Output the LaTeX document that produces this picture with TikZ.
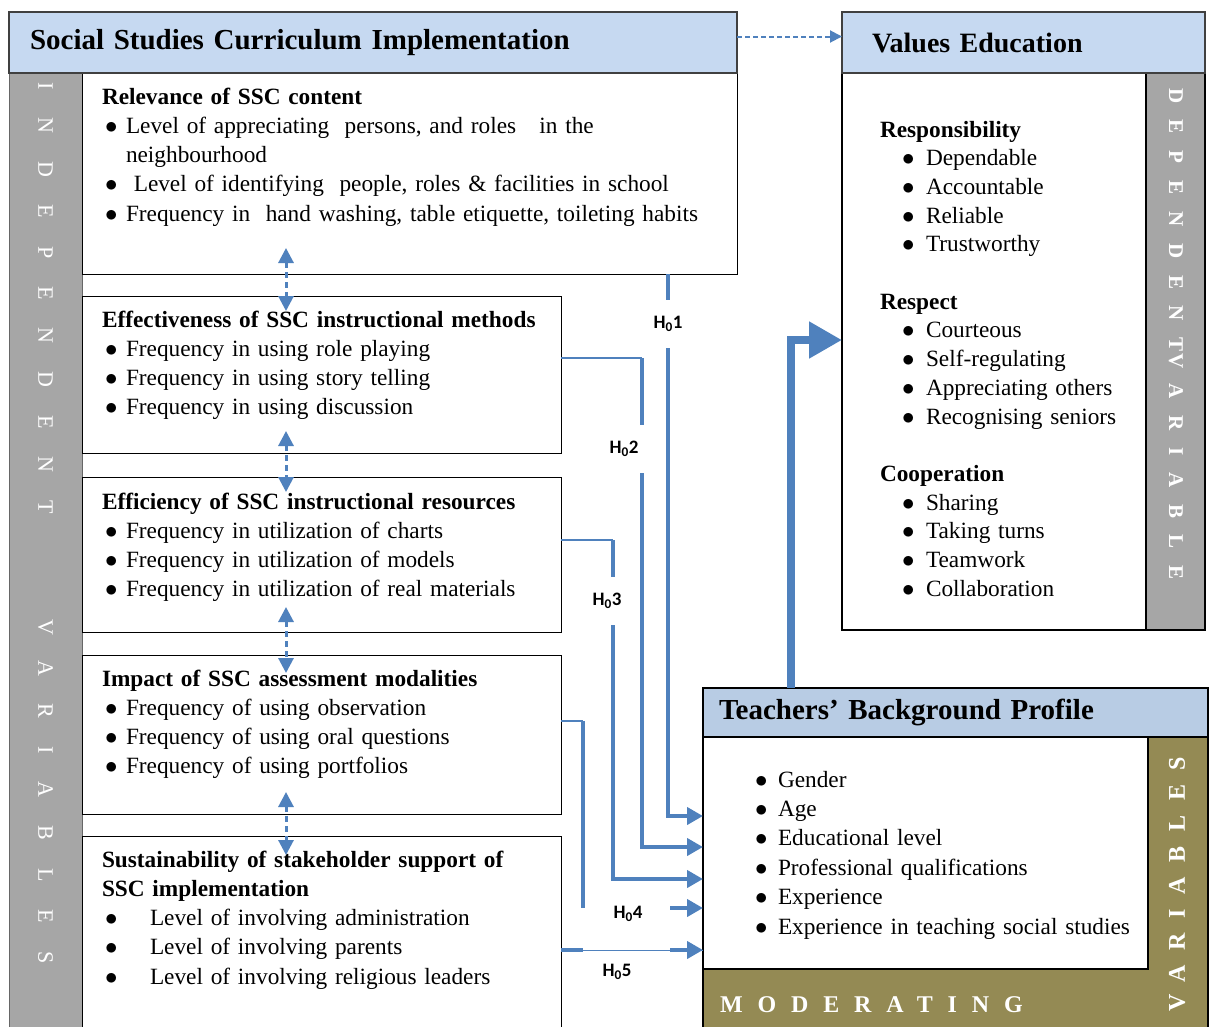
\documentclass[tikz,border=0pt]{standalone}
\usepackage{fontspec}
\setmainfont{Liberation Serif}
\newfontfamily\calibri{Carlito}
\usetikzlibrary{arrows.meta,positioning}

\definecolor{hdrblue}{HTML}{C6D9F1}
\definecolor{tbpblue}{HTML}{B8CCE4}
\definecolor{bandgray}{HTML}{A6A6A6}
\definecolor{olive}{HTML}{948A54}
\definecolor{linkblue}{HTML}{4F81BD}

% bullets with the indents of the reference
\newcommand\bigdot{$\bullet$}
\newcommand\bul{\hspace*{3pt}\makebox[21pt][l]{\bigdot}}
\newcommand\bulw{\hspace*{3pt}\makebox[45pt][l]{\bigdot}}
\newcommand\bulv{\hspace*{22pt}\makebox[24pt][l]{\bigdot}}
\newcommand\bult{\hspace*{-1pt}\makebox[23pt][l]{\bigdot}}

\begin{document}
\begin{tikzpicture}[x=1pt, y=-1pt,
    every node/.style={inner sep=0pt, outer sep=0pt},
    frame/.style={anchor=north west, draw=black, line width=1pt, fill=white},
    hdr/.style={anchor=north west, draw=black!75, line width=1.5pt, fill=hdrblue,
        align=left, font=\bfseries\fontsize{28}{32}\selectfont},
    band/.style={anchor=north west, draw=black!60, line width=1pt, fill=bandgray},
    body/.style={anchor=base west, align=left, text width=700pt,
        font=\fontsize{23.3}{29.25}\selectfont},
    vlet/.style={text=white, font=\fontsize{22}{22}\selectfont},
    hlabel/.style={fill=white, inner xsep=8pt, inner ysep=16pt,
        font=\calibri\bfseries\fontsize{19}{19}\selectfont},
    link/.style={draw=linkblue, line width=4pt, -{Triangle[length=16pt,width=17pt]}},
    thinlink/.style={draw=linkblue, line width=2pt},
    dashlink/.style={draw=linkblue, line width=2pt, dash pattern=on 5pt off 3pt,
        -{Triangle[length=12pt,width=12pt]}},
    twoway/.style={draw=linkblue, line width=3pt, dash pattern=on 6pt off 4pt,
        {Triangle[length=15pt,width=15pt]}-{Triangle[length=15pt,width=15pt]}},
    bigarrow/.style={draw=linkblue, line width=8pt, -{Triangle[length=33pt,width=35pt]}}
]
\useasboundingbox (0,0) rectangle (1213,1026);

% Independent variables band
\node[band, minimum width=73, minimum height=960] (ivband) at (9,73) {};
\node[vlet, rotate=-90, anchor=west] (ivtext) at (45.5,82)
    {\addfontfeatures{LetterSpace=127}INDEPENDENT\hspace{105pt}VARIABLES};

% Independent variable boxes
\node[frame, minimum width=655, minimum height=201] (relv) at (82,73) {};
\node[frame, minimum width=479, minimum height=157] (effe) at (82,296) {};
\node[frame, minimum width=479, minimum height=155] (effi) at (82,477) {};
\node[frame, minimum width=479, minimum height=159] (impa) at (82,655) {};
\node[frame, minimum width=479, minimum height=195] (sust) at (82,836) {};

% Main header
\node[hdr, font=\bfseries\fontsize{29}{32}\selectfont, minimum width=728, minimum height=61,
    inner xsep=21pt, text width=686pt]
    (ssc) at (9,12) {Social Studies Curriculum Implementation};

% Box texts
\node[body] (relvtxt) at (102,104) {\textbf{Relevance of SSC content}\\
    \bul Level of appreciating\ \ persons, and roles \ \ in the\\
    \hspace*{24pt}neighbourhood\\
    \bul\ Level of identifying\ \ people, roles \& facilities in school\\
    \bul Frequency in\ \ hand washing, table etiquette, toileting habits};
\node[body] (effetxt) at (102,327) {\textbf{Effectiveness of SSC instructional methods}\\
    \bul Frequency in using role playing\\
    \bul Frequency in using story telling\\
    \bul Frequency in using discussion};
\node[body] (effitxt) at (102,509) {\textbf{Efficiency of SSC instructional resources}\\
    \bul Frequency in utilization of charts\\
    \bul Frequency in utilization of models\\
    \bul Frequency in utilization of real materials};
\node[body] (impatxt) at (102,686) {\textbf{Impact of SSC assessment modalities}\\
    \bul Frequency of using observation\\
    \bul Frequency of using oral questions\\
    \bul Frequency of using portfolios};
\node[body] (susttxt) at (102,867) {\textbf{Sustainability of stakeholder support of}\\
    \textbf{SSC implementation}\\
    \bulw Level of involving administration\\
    \bulw Level of involving parents\\
    \bulw Level of involving religious leaders};

% Values Education (dependent)
\node[frame, line width=1.5pt, minimum width=363, minimum height=557] (valbody) at (842,73) {};
\node[band, draw=black, line width=1.5pt, minimum width=59, minimum height=557] (dvband) at (1146,73) {};
\node[hdr, minimum width=363, minimum height=61, inner xsep=30pt, text width=303pt]
    (valhdr) at (842,12) {Values Education};
\node[body, font=\fontsize{23.3}{28.7}\selectfont] (valtxt) at (880,137) {\textbf{Responsibility}\\
    \bulv Dependable\\
    \bulv Accountable\\
    \bulv Reliable\\
    \bulv Trustworthy\\[28.7pt]
    \textbf{Respect}\\
    \bulv Courteous\\
    \bulv Self-regulating\\
    \bulv Appreciating others\\
    \bulv Recognising seniors\\[28.7pt]
    \textbf{Cooperation}\\
    \bulv Sharing\\
    \bulv Taking turns\\
    \bulv Teamwork\\
    \bulv Collaboration};
\node[vlet, rotate=-90, anchor=west, font=\bfseries\fontsize{21}{21}\selectfont]
    (dvtext) at (1176,88) {\addfontfeatures{LetterSpace=80}DEPENDENT\hspace{2pt}VARIABLE};

% Teachers' background profile (moderating)
\node[frame, draw=black, line width=1.5pt, fill=olive, minimum width=505, minimum height=345] (tbp) at (703,688) {};
\node[frame, line width=1.5pt, minimum width=445, minimum height=232] (tbpbody) at (703,737) {};
\node[hdr, draw=black, fill=tbpblue, font=\bfseries\fontsize{29}{32}\selectfont,
    minimum width=505, minimum height=49, inner xsep=16pt, text width=473pt]
    (tbphdr) at (703,688) {Teachers' Background Profile};
\node[body, font=\fontsize{23.3}{29.4}\selectfont] (tbptxt) at (756,787) {\bult Gender\\
    \bult Age\\
    \bult Educational level\\
    \bult Professional qualifications\\
    \bult Experience\\
    \bult Experience in teaching social studies};
\node[vlet, rotate=90, anchor=west, font=\bfseries\fontsize{24}{24}\selectfont]
    (mvtext) at (1177,1011) {\addfontfeatures{LetterSpace=61}VARIABLES};
\node[vlet, anchor=base west, font=\bfseries\fontsize{24}{24}\selectfont]
    (modtext) at (720,1012) {\addfontfeatures{LetterSpace=62}MODERATING};

% Dashed links
\draw[dashlink] ([yshift=6]ssc.east) -- ([yshift=6]valhdr.west);
\coordinate (ax) at (286,0);
\draw[twoway] ([yshift=26]ax |- relv.south) -- ([yshift=-15]ax |- effe.north);
\draw[twoway] ([yshift=22]ax |- effe.south) -- ([yshift=-15]ax |- effi.north);
\draw[twoway] ([yshift=25]ax |- effi.south) -- ([yshift=-18]ax |- impa.north);
\draw[twoway] ([yshift=22]ax |- impa.south) -- ([yshift=-19]ax |- sust.north);

% Hypothesis links
\coordinate (h1x) at (668,0);
\coordinate (h2x) at (642,0);
\coordinate (h3x) at (613,0);
\coordinate (h4x) at (583,0);
\coordinate (gx) at (670,0);
\coordinate (in1) at ([yshift=37]tbpbody.west);
\coordinate (in2) at ([yshift=6]tbpbody.west);
\coordinate (in3) at ([yshift=-26]tbpbody.west);
\coordinate (in4) at ([yshift=-55]tbpbody.west);
\coordinate (in5) at ([yshift=-97]tbpbody.west);
\coordinate (o2) at ([yshift=16.5]effe.east);
\coordinate (o3) at ([yshift=14.5]effi.east);
\coordinate (o4) at ([yshift=13.5]impa.east);
\coordinate (o5) at (sust.east |- in5);

\draw[link] (relv.south -| h1x) -- (h1x |- in1) -- (in1);
\draw[thinlink] (o2) -- (o2 -| h2x);
\draw[link] (o2 -| h2x) -- (h2x |- in2) -- (in2);
\draw[thinlink] (o3) -- (o3 -| h3x);
\draw[link] (o3 -| h3x) -- (h3x |- in3) -- (in3);
\draw[thinlink] (o4) -- (o4 -| h4x);
\draw[link, -, line width=3.5pt] (o4 -| h4x) -- (h4x |- in4);
\draw[link] (in4 -| gx) -- (in4);
\draw[thinlink, line width=1pt] (o5) -- (in5);
\draw[link, -] (o5) -- (o5 -| h4x);
\draw[link] (in5 -| gx) -- (in5);

% Moderating to dependent
\coordinate (bx) at (791,0);
\coordinate (vin) at ([yshift=11.5]valbody.west);
\draw[bigarrow] (tbphdr.north -| bx) |- (vin);

% Hypothesis labels
\node[hlabel] (h01) at (668,324) {H\textsubscript{0}1};
\node[hlabel] (h02) at (624,449) {H\textsubscript{0}2};
\node[hlabel] (h03) at (607,601) {H\textsubscript{0}3};
\node[hlabel, fill=none] (h04) at (628,914) {H\textsubscript{0}4};
\node[hlabel, fill=none] (h05) at (617,972) {H\textsubscript{0}5};
\end{tikzpicture}
\end{document}
